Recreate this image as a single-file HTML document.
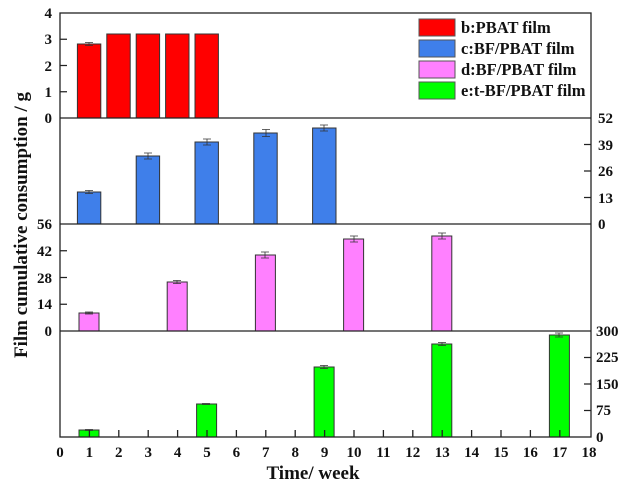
<!DOCTYPE html>
<html><head><meta charset="utf-8"><style>
html,body{margin:0;padding:0;background:#fff;}
svg{display:block;font-family:"Liberation Serif",serif;font-weight:bold;}
</style></head><body>
<svg width="630" height="485" viewBox="0 0 630 485" xmlns="http://www.w3.org/2000/svg">
<g id="bars" stroke="#333" stroke-width="1">
<rect x="77.4" y="44" width="23.4" height="74" fill="#ff0000"/>
<rect x="106.8" y="34" width="23.4" height="84" fill="#ff0000"/>
<rect x="136.2" y="34" width="23.4" height="84" fill="#ff0000"/>
<rect x="165.6" y="34" width="23.4" height="84" fill="#ff0000"/>
<rect x="195" y="34" width="23.4" height="84" fill="#ff0000"/>
<rect x="77.4" y="192" width="23.4" height="32" fill="#3f7fea"/>
<rect x="136.2" y="156" width="23.4" height="68" fill="#3f7fea"/>
<rect x="195" y="142" width="23.4" height="82" fill="#3f7fea"/>
<rect x="253.8" y="133" width="23.4" height="91" fill="#3f7fea"/>
<rect x="312.6" y="128" width="23.4" height="96" fill="#3f7fea"/>
<rect x="79" y="313" width="20" height="18" fill="#ff80ff"/>
<rect x="167.2" y="282" width="20" height="49" fill="#ff80ff"/>
<rect x="255.4" y="255" width="20" height="76" fill="#ff80ff"/>
<rect x="343.6" y="239" width="20" height="92" fill="#ff80ff"/>
<rect x="431.8" y="236" width="20" height="95" fill="#ff80ff"/>
<rect x="79" y="430" width="20" height="7" fill="#00ff00"/>
<rect x="196.6" y="404" width="20" height="33" fill="#00ff00"/>
<rect x="314.1" y="367" width="20" height="70" fill="#00ff00"/>
<rect x="431.8" y="344" width="20" height="93" fill="#00ff00"/>
<rect x="549.4" y="335" width="20" height="102" fill="#00ff00"/>
</g>
<g stroke="#333" stroke-width="0.8" fill="none">
<path d="M85 42.5h8M89 42.5v3M85 45.5h8"/>
<path d="M85 190.5h8M89 190.5v3M85 193.5h8"/>
<path d="M144 153h8M148 153v6M144 159h8"/>
<path d="M203 139h8M207 139v6M203 145h8"/>
<path d="M262 129.5h8M266 129.5v7M262 136.5h8"/>
<path d="M320 125h8M324 125v6M320 131h8"/>
<path d="M85 312h8M89 312v2M85 314h8"/>
<path d="M173 280.5h8M177 280.5v3M173 283.5h8"/>
<path d="M261 252h8M265 252v6M261 258h8"/>
<path d="M350 236h8M354 236v6M350 242h8"/>
<path d="M438 233h8M442 233v6M438 239h8"/>
<path d="M85 429.5h8M89 429.5v1M85 430.5h8"/>
<path d="M202 403.5h8M206 403.5v1M202 404.5h8"/>
<path d="M320 365.5h8M324 365.5v3M320 368.5h8"/>
<path d="M438 342.5h8M442 342.5v3M438 345.5h8"/>
<path d="M555 333h8M559 333v4M555 337h8"/>
</g>
<g stroke="#222" stroke-width="1.3" fill="none">
<rect x="60" y="13" width="531" height="424"/>
<line x1="60" y1="118" x2="591" y2="118"/>
<line x1="60" y1="224" x2="591" y2="224"/>
<line x1="60" y1="331" x2="591" y2="331"/>
<path d="M60 91.75h7M60 65.5h7M60 39.25h7"/>
<path d="M591 197.5h-7M591 171h-7M591 144.5h-7"/>
<path d="M60 304.25h7M60 277.5h7M60 250.75h7"/>
<path d="M591 410.5h-7M591 384h-7M591 357.5h-7"/>
<path d="M89.4 437v-7M118.8 437v-7M148.2 437v-7M177.6 437v-7M207 437v-7M236.4 437v-7M265.8 437v-7M295.2 437v-7M324.6 437v-7M354 437v-7M383.4 437v-7M412.8 437v-7M442.2 437v-7M471.6 437v-7M501 437v-7M530.4 437v-7M559.8 437v-7"/>
</g>
<g font-size="15" fill="#111" text-anchor="end">
<text x="52" y="18">4</text><text x="52" y="44">3</text><text x="52" y="71">2</text><text x="52" y="97">1</text><text x="52" y="123">0</text>
<text x="52" y="229">56</text><text x="52" y="256">42</text><text x="52" y="283">28</text><text x="52" y="309">14</text><text x="52" y="336">0</text>
</g>
<g font-size="15" fill="#111" text-anchor="start">
<text x="598" y="123">52</text><text x="598" y="150">39</text><text x="598" y="176">26</text><text x="598" y="203">13</text><text x="598" y="229">0</text>
<text x="596" y="336">300</text><text x="596" y="362">225</text><text x="596" y="389">150</text><text x="596" y="415">75</text><text x="596" y="442">0</text>
</g>
<g font-size="15" fill="#111" text-anchor="middle">
<text x="60" y="457">0</text><text x="89.4" y="457">1</text><text x="118.8" y="457">2</text><text x="148.2" y="457">3</text><text x="177.6" y="457">4</text><text x="207" y="457">5</text><text x="236.4" y="457">6</text><text x="265.8" y="457">7</text><text x="295.2" y="457">8</text><text x="324.6" y="457">9</text><text x="354" y="457">10</text><text x="383.4" y="457">11</text><text x="412.8" y="457">12</text><text x="442.2" y="457">13</text><text x="471.6" y="457">14</text><text x="501" y="457">15</text><text x="530.4" y="457">16</text><text x="559.8" y="457">17</text><text x="589" y="457">18</text>
</g>
<text x="313" y="479" font-size="19" text-anchor="middle" fill="#111">Time/ week</text>
<text transform="translate(27,225) rotate(-90)" font-size="19" text-anchor="middle" fill="#111">Film cumulative consumption / g</text>
<g stroke="#555" stroke-width="1">
<rect x="419" y="19" width="36" height="17" fill="#ff0000"/>
<rect x="419" y="40" width="36" height="17" fill="#3f7fea"/>
<rect x="419" y="61" width="36" height="17" fill="#ff80ff"/>
<rect x="419" y="82" width="36" height="17" fill="#00ff00"/>
</g>
<g font-size="16.5" fill="#111">
<text x="461" y="33">b:PBAT film</text>
<text x="461" y="54">c:BF/PBAT film</text>
<text x="461" y="75">d:BF/PBAT film</text>
<text x="461" y="96">e:t-BF/PBAT film</text>
</g>
</svg>
</body></html>
